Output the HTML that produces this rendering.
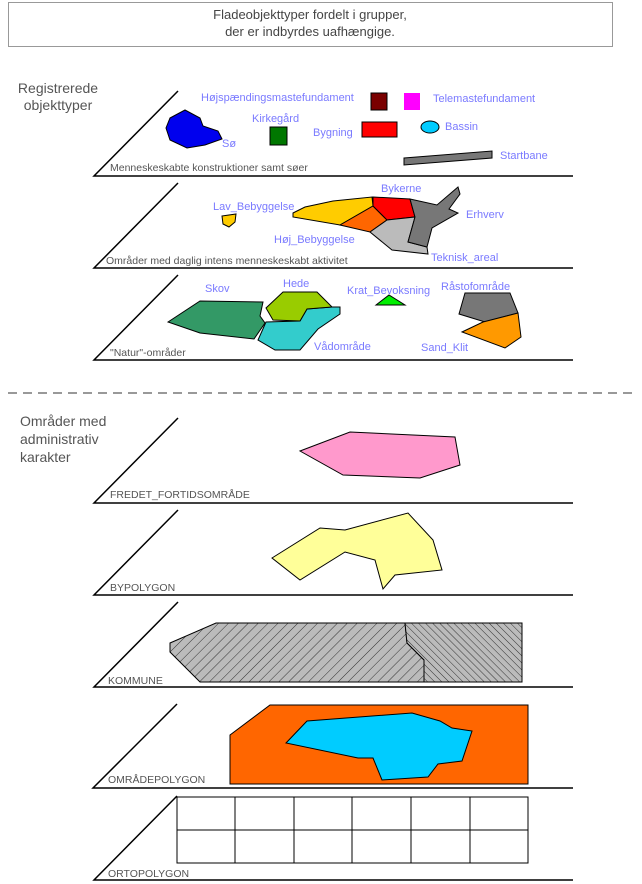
<!DOCTYPE html>
<html><head><meta charset="utf-8"><style>
body{margin:0;background:#fff;}
svg{display:block;font-family:"Liberation Sans",sans-serif;}
.pl{stroke:#000;stroke-width:1.5;fill:none}
.lb{fill:#7a7aff;font-size:11px}
.gl{fill:#555;font-size:10.5px}
.sh{stroke:#000;stroke-width:1}
</style></head><body>
<svg width="642" height="884" viewBox="0 0 642 884">
<defs>
<pattern id="h1" width="7" height="7" patternUnits="userSpaceOnUse" patternTransform="rotate(45)"><rect width="7" height="7" fill="#bbb"/><line x1="0" y1="0" x2="0" y2="7" stroke="#333" stroke-width="1"/></pattern>
<pattern id="h2" width="5" height="5" patternUnits="userSpaceOnUse" patternTransform="rotate(-45)"><rect width="5" height="5" fill="#bbb"/><line x1="0" y1="0" x2="0" y2="5" stroke="#333" stroke-width="1"/></pattern>
</defs>
<g>
<rect x="8.5" y="2.5" width="604" height="44" fill="#fff" stroke="#999"/>
<text x="310" y="19" text-anchor="middle" font-size="13" fill="#444">Fladeobjekttyper fordelt i grupper,</text>
<text x="310" y="36" text-anchor="middle" font-size="13" fill="#444">der er indbyrdes uafhængige.</text>
</g>
<g font-size="14" fill="#555">
<text x="58" y="93" text-anchor="middle">Registrerede</text>
<text x="58" y="110" text-anchor="middle">objekttyper</text>
</g>
<g font-size="14" fill="#555">
<text x="20" y="426">Områder med</text>
<text x="20" y="444">administrativ</text>
<text x="20" y="462">karakter</text>
</g>
<line x1="8" y1="393" x2="632" y2="393" stroke="#999" stroke-width="2" stroke-dasharray="9,6"/>

<g>
<path class="pl" d="M178,91 L94,176 L573,176"/>
<text class="gl" x="110" y="171">Menneskeskabte konstruktioner samt søer</text>
<polygon class="sh" fill="#0000ee" points="170,118 185,110 200,118 203,126 218,131 222,139 205,145 187,148 170,140 166,128"/>
<text class="lb" x="222" y="147">Sø</text>
<text class="lb" x="252" y="122">Kirkegård</text>
<rect class="sh" x="270" y="127" width="17" height="18" fill="#007700"/>
<text class="lb" x="201" y="101">Højspændingsmastefundament</text>
<rect class="sh" x="371" y="93" width="16" height="17" fill="#7a0000"/>
<rect x="404" y="93" width="16" height="17" fill="#ff00ff"/>
<text class="lb" x="433" y="102">Telemastefundament</text>
<text class="lb" x="313" y="136">Bygning</text>
<rect class="sh" x="362" y="122" width="35" height="15" fill="#ff0000"/>
<ellipse class="sh" cx="430" cy="127" rx="9" ry="6" fill="#00ccff"/>
<text class="lb" x="445" y="130">Bassin</text>
<polygon class="sh" fill="#777" points="404,158 492,151 492,158 404,165"/>
<text class="lb" x="500" y="159">Startbane</text>
</g>

<g>
<path class="pl" d="M178,183 L94,268 L573,268"/>
<text class="gl" x="106" y="264">Områder med daglig intens menneskeskabt aktivitet</text>
<text class="lb" x="213" y="210">Lav_Bebyggelse</text>
<polygon class="sh" fill="#ffcc00" points="222,216 236,214 235,222 229,227 223,224"/>
<polygon class="sh" fill="#ffcc00" points="293,213 305,207 333,201 372,197 373,206 340,225 293,217"/>
<polygon class="sh" fill="#ff6600" points="373,206 387,220 370,232 340,225"/>
<polygon class="sh" fill="#ff0000" points="373,197 410,199 415,217 387,220 373,206"/>
<polygon class="sh" fill="#bbb" points="370,232 387,220 415,217 408,242 427,247 428,254 392,250"/>
<polygon class="sh" fill="#777" points="410,199 437,205 458,187 460,194 449,209 458,213 432,228 427,247 408,242 415,217"/>
<text class="lb" x="381" y="192">Bykerne</text>
<text class="lb" x="466" y="218">Erhverv</text>
<text class="lb" x="274" y="243">Høj_Bebyggelse</text>
<text class="lb" x="431" y="261">Teknisk_areal</text>
</g>

<g>
<path class="pl" d="M178,275 L94,360 L573,360"/>
<text class="gl" x="110" y="356">"Natur"-områder</text>
<polygon class="sh" fill="#339966" points="168,322 200,301 263,302 260,316 265,323 254,339 200,333"/>
<text class="lb" x="205" y="292">Skov</text>
<polygon class="sh" fill="#33cccc" points="300,321 307,309 332,307 340,307 340,314 318,329 300,350 275,350 258,340 266,322"/>
<polygon class="sh" fill="#99cc00" points="283,292 317,292 332,307 307,309 300,321 273,320 266,308"/>
<text class="lb" x="283" y="287">Hede</text>
<text class="lb" x="314" y="350">Vådområde</text>
<polygon class="sh" fill="#00ee00" points="376,305 389,295 405,305"/>
<text class="lb" x="347" y="294">Krat_Bevoksning</text>
<polygon class="sh" fill="#777" points="465,293 510,293 518,313 485,322 459,314"/>
<polygon class="sh" fill="#ff9900" points="483,322 518,313 521,337 505,348 462,332"/>
<text class="lb" x="441" y="290">Råstofområde</text>
<text class="lb" x="421" y="351">Sand_Klit</text>
</g>

<g>
<path class="pl" d="M178,418 L94,503 L573,503"/>
<text class="gl" x="110" y="498">FREDET_FORTIDSOMRÅDE</text>
<polygon class="sh" fill="#ff99cc" points="300,451 350,432 455,437 460,465 420,478 343,475"/>
</g>

<g>
<path class="pl" d="M178,510 L94,595 L573,595"/>
<text class="gl" x="110" y="591">BYPOLYGON</text>
<polygon class="sh" fill="#ffff99" points="272,558 320,528 345,530 408,513 433,540 442,570 395,575 383,589 375,560 345,552 300,580"/>
</g>

<g>
<path class="pl" d="M178,602 L94,687 L573,687"/>
<text class="gl" x="108" y="684">KOMMUNE</text>
<polygon class="sh" fill="url(#h1)" points="170,643 216,623 405,623 407,643 424,660 424,682 200,682 170,652"/>
<polygon class="sh" fill="url(#h2)" points="405,623 522,623 522,682 424,682 424,660 407,643"/>
</g>

<g>
<path class="pl" d="M177,704 L93,788 L573,788"/>
<text class="gl" x="108" y="783">OMRÅDEPOLYGON</text>
<polygon class="sh" fill="#ff6600" points="230,735 270,705 528,705 528,784 230,784"/>
<polygon class="sh" fill="#00ccff" points="286,743 307,721 412,713 440,721 452,728 472,731 462,761 438,764 428,777 382,780 373,758 358,758"/>
</g>

<g>
<path class="pl" d="M177,796 L94,880 L573,880"/>
<text class="gl" x="108" y="877">ORTOPOLYGON</text>
<g stroke="#000" stroke-width="1" fill="none">
<rect x="177" y="797" width="351" height="66"/>
<line x1="177" y1="830" x2="528" y2="830"/>
<line x1="235" y1="797" x2="235" y2="863"/>
<line x1="294" y1="797" x2="294" y2="863"/>
<line x1="352" y1="797" x2="352" y2="863"/>
<line x1="411" y1="797" x2="411" y2="863"/>
<line x1="470" y1="797" x2="470" y2="863"/>
</g>
</g>
</svg>
</body></html>
